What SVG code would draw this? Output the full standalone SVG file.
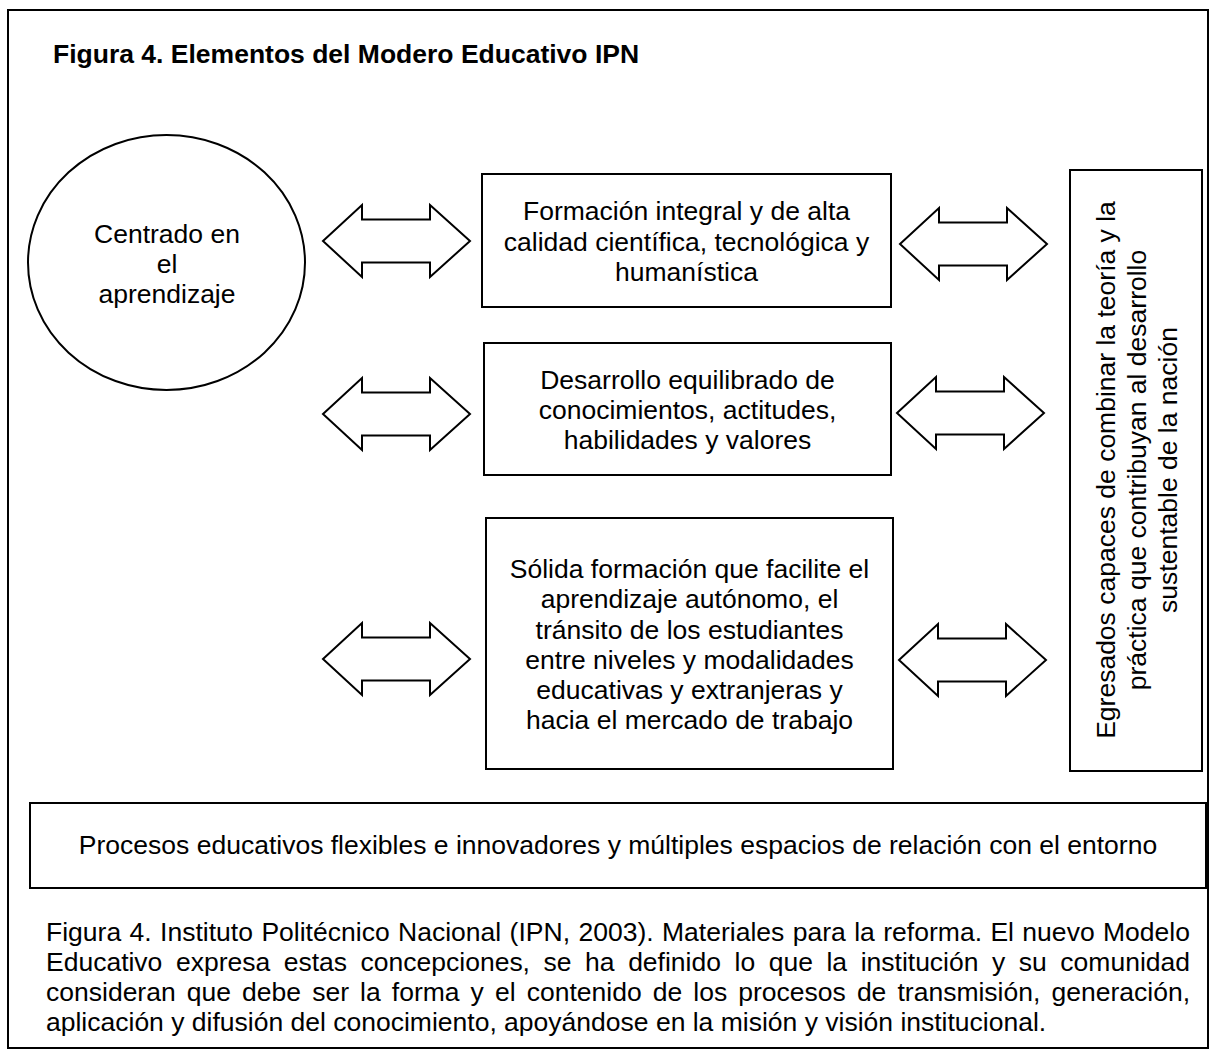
<svg xmlns="http://www.w3.org/2000/svg" width="1216" height="1057" viewBox="0 0 1216 1057">
<style>
.t{font-family:"Liberation Sans",Arial,Helvetica,sans-serif;font-size:26.5px;fill:#000}
.c{text-anchor:middle}
.b{font-weight:bold}
.box{fill:#fff;stroke:#000;stroke-width:2}
.arr{fill:#fff;stroke:#000;stroke-width:2;stroke-linejoin:miter}
</style>
<defs>
<polygon id="dbl" points="0,0 39,-36 39,-21.5 107,-21.5 107,-36 147,0 107,36 107,21.5 39,21.5 39,36"/>
</defs>
<rect x="0" y="0" width="1216" height="1057" fill="#fff"/>
<g id="frame"><rect x="8" y="10" width="1200" height="1038" fill="none" stroke="#000" stroke-width="2"/></g>
<g id="title"><text class="t b" x="53" y="63">Figura 4. Elementos del Modero Educativo IPN</text></g>

<g id="connectors">
<use href="#dbl" class="arr" transform="translate(323,241)"/>
<use href="#dbl" class="arr" transform="translate(323,414)"/>
<use href="#dbl" class="arr" transform="translate(323,659)"/>
<use href="#dbl" class="arr" transform="translate(900,244)"/>
<use href="#dbl" class="arr" transform="translate(897,413)"/>
<use href="#dbl" class="arr" transform="translate(899,660)"/>
</g>

<g id="node-centrado">
<ellipse cx="166.5" cy="262.5" rx="138.5" ry="127.5" fill="#fff" stroke="#000" stroke-width="2"/>
<text class="t c" x="167" y="243">Centrado en</text>
<text class="t c" x="167" y="273">el</text>
<text class="t c" x="167" y="303">aprendizaje</text>
</g>

<g id="node-formacion">
<rect class="box" x="482" y="174" width="409" height="133"/>
<text class="t c" x="686.5" y="220">Formación integral y de alta</text>
<text class="t c" x="686.5" y="250.5">calidad científica, tecnológica y</text>
<text class="t c" x="686.5" y="281">humanística</text>
</g>

<g id="node-desarrollo">
<rect class="box" x="484" y="343" width="407" height="132"/>
<text class="t c" x="687.5" y="389">Desarrollo equilibrado de</text>
<text class="t c" x="687.5" y="419">conocimientos, actitudes,</text>
<text class="t c" x="687.5" y="449">habilidades y valores</text>
</g>

<g id="node-solida">
<rect class="box" x="486" y="518" width="407" height="251"/>
<text class="t c" x="689.5" y="578">Sólida formación que facilite el</text>
<text class="t c" x="689.5" y="608">aprendizaje autónomo, el</text>
<text class="t c" x="689.5" y="638.5">tránsito de los estudiantes</text>
<text class="t c" x="689.5" y="669">entre niveles y modalidades</text>
<text class="t c" x="689.5" y="699">educativas y extranjeras y</text>
<text class="t c" x="689.5" y="729">hacia el mercado de trabajo</text>
</g>

<g id="node-egresados">
<rect class="box" x="1070" y="170" width="132" height="601"/>
<g transform="translate(0,470) rotate(-90)">
<text class="t c" x="0" y="1115">Egresados capaces de combinar la teoría y la</text>
<text class="t c" x="0" y="1146">práctica que contribuyan al desarrollo</text>
<text class="t c" x="0" y="1177">sustentable de la nación</text>
</g>
</g>

<g id="node-procesos">
<rect class="box" x="30" y="803" width="1176" height="85"/>
<text class="t c" x="618" y="854">Procesos educativos flexibles e innovadores y múltiples espacios de relación con el entorno</text>
</g>

<g id="caption">
<text class="t" x="46" y="941" style="word-spacing:1px" textLength="1144" lengthAdjust="spacing">Figura 4. Instituto Politécnico Nacional (IPN, 2003). Materiales para la reforma. El nuevo Modelo</text>
<text class="t" x="46" y="971" style="word-spacing:6.2px" textLength="1144" lengthAdjust="spacing">Educativo expresa estas concepciones, se ha definido lo que la institución y su comunidad</text>
<text class="t" x="46" y="1001" style="word-spacing:3.7px" textLength="1144" lengthAdjust="spacing">consideran que debe ser la forma y el contenido de los procesos de transmisión, generación,</text>
<text class="t" x="46" y="1031">aplicación y difusión del conocimiento, apoyándose en la misión y visión institucional.</text>
</g>
</svg>
